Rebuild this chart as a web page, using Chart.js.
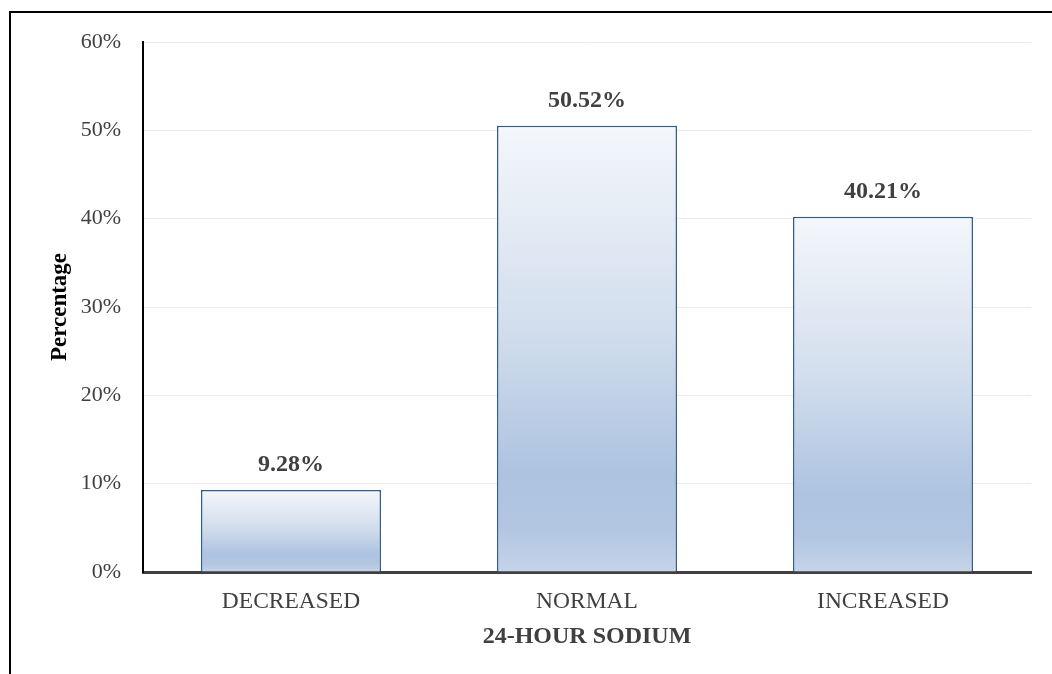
<!DOCTYPE html>
<html>
<head>
<meta charset="utf-8">
<script src="https://cdn.jsdelivr.net/npm/chart.js@4.4.1/dist/chart.umd.min.js"></script>
<style>
  html, body { margin: 0; padding: 0; background: #ffffff; }
  #wrap { position: relative; width: 1052px; height: 674px; }
</style>
</head>
<body>
<div id="wrap"><canvas id="chart"></canvas></div>
<script>
// 24-hour urinary sodium distribution
const categories = ['DECREASED', 'NORMAL', 'INCREASED'];
const percentages = [9.28, 50.52, 40.21];
const yTicks = [0, 10, 20, 30, 40, 50, 60];

const SERIF = '"Liberation Serif", "Times New Roman", serif';
const TEXT = '#404040';

// Vertical gradient spanning a single bar, from its top down to the baseline
function barGradient(ctx) {
  const chart = ctx.chart;
  const y = chart.scales.y;
  if (!chart.chartArea || !y || ctx.parsed === undefined) return '#b4c7e7';
  const top = y.getPixelForValue(ctx.parsed.y);
  const base = y.getPixelForValue(0);
  if (!isFinite(top) || !isFinite(base) || base - top < 1) return '#b4c7e7';
  const g = chart.ctx.createLinearGradient(0, top, 0, base);
  g.addColorStop(0, '#f4f7fb');
  g.addColorStop(0.45, '#d2deed');
  g.addColorStop(0.78, '#adc3e0');
  g.addColorStop(0.9, '#b2c6e1');
  g.addColorStop(1, '#c4d4e9');
  return g;
}

// Bold value labels above each bar
const valueLabels = {
  id: 'valueLabels',
  afterDatasetsDraw(chart) {
    const { ctx } = chart;
    const meta = chart.getDatasetMeta(0);
    ctx.save();
    ctx.font = 'bold 24px ' + SERIF;
    ctx.fillStyle = TEXT;
    ctx.textAlign = 'center';
    ctx.textBaseline = 'middle';
    meta.data.forEach((bar, i) => {
      ctx.fillText(percentages[i].toFixed(2) + '%', bar.x, bar.y - 25);
    });
    ctx.restore();
  }
};

// Outer frame lines along the left and top edges
const frame = {
  id: 'frame',
  afterDraw(chart) {
    const { ctx } = chart;
    ctx.save();
    ctx.strokeStyle = '#000000';
    ctx.lineWidth = 2;
    ctx.beginPath();
    ctx.moveTo(10, chart.height);
    ctx.lineTo(10, 12);
    ctx.lineTo(chart.width, 12);
    ctx.stroke();
    ctx.restore();
  }
};

new Chart(document.getElementById('chart'), {
  type: 'bar',
  data: {
    labels: categories,
    datasets: [{
      data: percentages,
      backgroundColor: barGradient,
      borderColor: '#2f5a93',
      borderWidth: 1.5,
      borderSkipped: 'bottom',
      categoryPercentage: 0.608,
      barPercentage: 1.0
    }]
  },
  options: {
    responsive: true,
    maintainAspectRatio: false,
    animation: false,
    devicePixelRatio: 1,
    layout: { padding: { top: 42, right: 21, bottom: 0, left: 0 } },
    plugins: {
      legend: { display: false },
      tooltip: { enabled: false }
    },
    scales: {
      x: {
        grid: { display: false, drawTicks: false },
        border: { display: true, color: '#404040', width: 3 },
        ticks: {
          color: TEXT,
          font: { family: SERIF, size: 23.5 },
          padding: 16
        },
        title: {
          display: true,
          text: '24-HOUR SODIUM',
          color: TEXT,
          font: { family: SERIF, size: 24, weight: 'bold' },
          padding: { top: 0, bottom: 23 }
        },
        afterFit(scale) { scale.height = 102; }
      },
      y: {
        min: 0,
        max: 60,
        afterBuildTicks(scale) { scale.ticks = yTicks.map(v => ({ value: v })); },
        grid: { color: '#ebebeb', lineWidth: 1, drawTicks: false },
        border: { display: true, color: '#000000', width: 2 },
        ticks: {
          color: TEXT,
          font: { family: SERIF, size: 22 },
          padding: 22,
          callback: v => v + '%'
        },
        title: {
          display: true,
          text: 'Percentage',
          color: '#000000',
          font: { family: SERIF, size: 23, weight: 'bold' },
          padding: { top: 46, bottom: 0 }
        },
        afterFit(scale) { scale.width = 143; }
      }
    }
  },
  plugins: [valueLabels, frame]
});
</script>
</body>
</html>
